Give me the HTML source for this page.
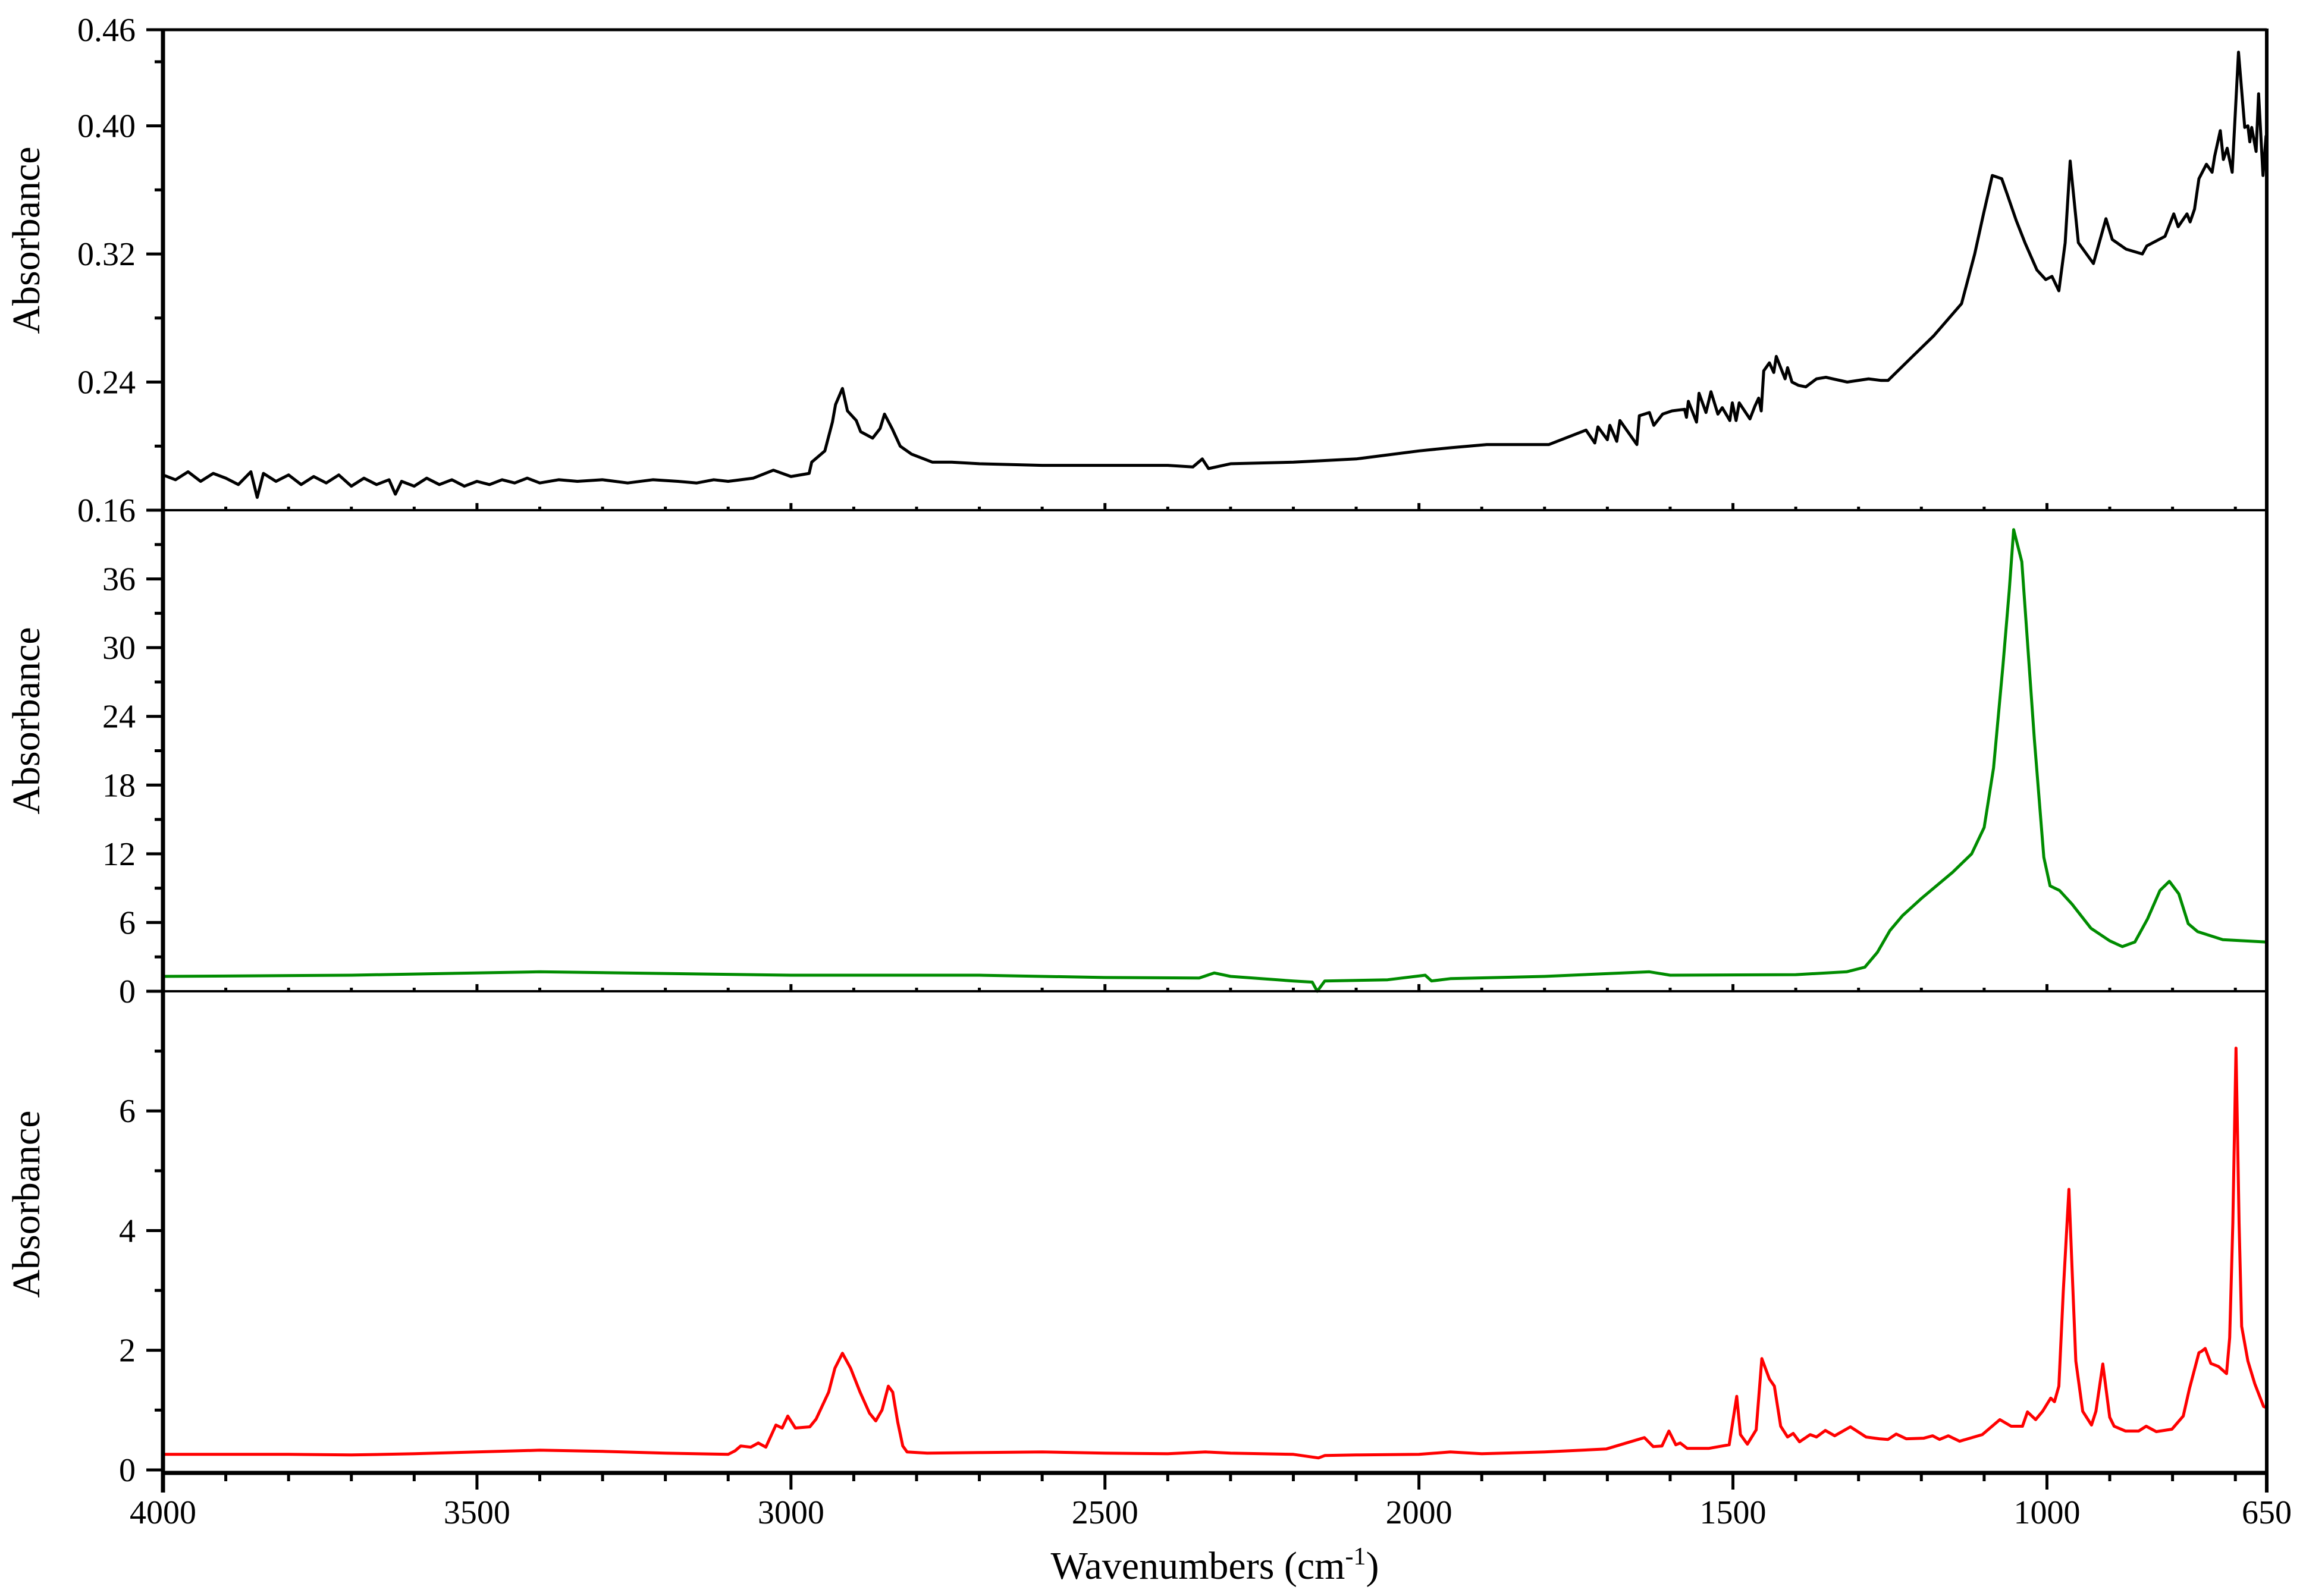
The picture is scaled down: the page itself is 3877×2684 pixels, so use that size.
<!DOCTYPE html>
<html><head><meta charset="utf-8"><style>
html,body{margin:0;padding:0;background:#fff;}
svg{display:block;}
text{font-family:"Liberation Serif",serif;fill:#000;}
</style></head><body>
<svg id="chart" xmlns="http://www.w3.org/2000/svg" width="3877" height="2684" viewBox="0 0 3877 2684">
<rect x="0" y="0" width="3877" height="2684" fill="#fff"/>
<g id="marks"></g>
<g id="axes"></g>
</svg>
<script>
// ---- data ----
const xTickLabels = [4000, 3500, 3000, 2500, 2000, 1500, 1000, 650];
const topTickLabels = ["0.16", "0.24", "0.32", "0.40", "0.46"];
const midTickLabels = ["0", "6", "12", "18", "24", "30", "36"];
const botTickLabels = ["0", "2", "4", "6"];

const topWn = [4000,3980,3960,3940,3920,3900,3880,3860,3850,3840,3820,3800,3780,3760,3740,3720,3700,3680,3660,3640,3630,3620,3600,3580,3560,3540,3520,3500,3480,3460,3440,3420,3400,3370,3340,3300,3260,3220,3180,3150,3123,3100,3060,3028,3000,2971,2967,2946,2934,2929,2918,2910,2896,2889,2870,2858,2851,2839,2826,2808,2775,2744,2700,2600,2500,2400,2360,2345,2335,2300,2200,2100,2000,1950,1892,1793,1734,1720,1715,1700,1696,1685,1680,1653,1649,1633,1626,1612,1597,1577,1574,1571,1558,1554,1543,1535,1524,1517,1505,1501,1495,1490,1473,1465,1459,1455,1451,1442,1435,1431,1417,1413,1406,1396,1384,1367,1352,1318,1284,1264,1253,1214,1180,1136,1115,1101,1087,1072,1063,1049,1035,1016,1002,992,981,971,963,950,926,906,896,874,848,841,812,798,791,777,772,765,758,746,737,733,724,719,713,705,695,685,680,677,674,667,663,656,651];
const topAbs = [0.182,0.179,0.184,0.178,0.183,0.180,0.176,0.184,0.168,0.183,0.178,0.182,0.176,0.181,0.177,0.182,0.175,0.180,0.176,0.179,0.170,0.178,0.175,0.180,0.176,0.179,0.175,0.178,0.176,0.179,0.177,0.180,0.177,0.179,0.178,0.179,0.177,0.179,0.178,0.177,0.179,0.178,0.180,0.185,0.181,0.183,0.190,0.197,0.215,0.226,0.236,0.222,0.216,0.209,0.205,0.211,0.220,0.211,0.200,0.195,0.190,0.190,0.189,0.188,0.188,0.188,0.187,0.192,0.186,0.189,0.190,0.192,0.197,0.199,0.201,0.201,0.210,0.202,0.212,0.204,0.213,0.203,0.216,0.201,0.219,0.221,0.213,0.220,0.222,0.223,0.218,0.228,0.215,0.233,0.221,0.234,0.220,0.224,0.216,0.227,0.216,0.227,0.217,0.225,0.230,0.222,0.247,0.252,0.246,0.256,0.242,0.249,0.240,0.238,0.237,0.242,0.243,0.240,0.242,0.241,0.241,0.256,0.269,0.289,0.320,0.345,0.369,0.367,0.357,0.341,0.327,0.310,0.304,0.306,0.297,0.327,0.378,0.327,0.314,0.342,0.329,0.323,0.320,0.325,0.331,0.345,0.337,0.345,0.340,0.348,0.367,0.376,0.371,0.381,0.397,0.379,0.386,0.371,0.446,0.399,0.400,0.390,0.399,0.384,0.420,0.369,0.394];

const midWn = [4000,3700,3400,3000,2700,2500,2350,2326,2300,2200,2170,2162,2150,2050,1990,1980,1950,1800,1633,1600,1400,1319,1290,1270,1250,1230,1200,1150,1120,1100,1085,1070,1060,1053,1040,1020,1005,995,980,960,930,900,880,860,840,820,805,790,775,760,720,650];
const midAbs = [1.3,1.4,1.7,1.4,1.4,1.2,1.15,1.6,1.3,0.9,0.8,0.0,0.9,1.0,1.4,0.9,1.1,1.3,1.7,1.4,1.45,1.7,2.1,3.4,5.3,6.6,8.1,10.4,12.0,14.3,19.5,28.5,35.0,40.3,37.5,22.0,11.7,9.2,8.8,7.6,5.5,4.4,3.9,4.3,6.3,8.8,9.6,8.5,5.9,5.2,4.5,4.3];

const botWn = [4000,3900,3800,3700,3600,3500,3400,3300,3200,3100,3089,3080,3064,3052,3040,3024,3014,3005,2993,2970,2960,2940,2930,2918,2905,2890,2875,2865,2855,2845,2838,2830,2822,2815,2783,2700,2600,2500,2400,2340,2300,2200,2160,2150,2100,2000,1950,1900,1800,1702,1673,1641,1627,1613,1602,1591,1584,1573,1538,1506,1494,1488,1477,1463,1454,1442,1434,1424,1413,1404,1394,1377,1367,1353,1338,1313,1288,1267,1253,1240,1224,1196,1182,1171,1157,1139,1103,1075,1057,1039,1031,1018,1007,994,988,981,974,965,960,954,943,929,922,911,900,893,875,854,842,826,801,783,773,758,754,748,739,727,714,709,704,699,694,690,680,669,655,650];
const botAbs = [0.26,0.26,0.26,0.25,0.27,0.30,0.33,0.31,0.28,0.26,0.32,0.40,0.38,0.45,0.38,0.75,0.70,0.90,0.70,0.72,0.85,1.30,1.70,1.95,1.70,1.30,0.95,0.82,1.00,1.40,1.30,0.80,0.40,0.30,0.28,0.29,0.30,0.28,0.27,0.30,0.28,0.26,0.20,0.24,0.25,0.26,0.30,0.27,0.30,0.35,0.44,0.54,0.39,0.40,0.65,0.42,0.45,0.36,0.36,0.42,1.23,0.59,0.43,0.67,1.86,1.52,1.40,0.73,0.55,0.61,0.47,0.59,0.55,0.66,0.57,0.72,0.55,0.52,0.51,0.60,0.52,0.53,0.57,0.51,0.57,0.48,0.59,0.84,0.73,0.73,0.97,0.84,0.98,1.20,1.14,1.40,2.98,4.69,3.36,1.82,0.98,0.75,0.98,1.77,0.88,0.73,0.65,0.65,0.73,0.64,0.68,0.90,1.36,1.96,1.98,2.03,1.78,1.73,1.61,2.21,4.13,7.05,4.13,2.40,1.82,1.44,1.06,1.04];

// ---- layout ----
const L = 274, R = 3811;
const panels = [
  {top: 50, bot: 858, min: 0.16, max: 0.46},
  {top: 858, bot: 1667, min: 0, max: 42},
  {top: 1667, bot: 2477, min: -0.05, max: 8}
];
const NS = "http://www.w3.org/2000/svg";
function xS(w){ return L + (4000 - w) * (R - L) / 3350; }
function yS(p, v){ const P = panels[p]; return P.bot - (v - P.min) * (P.bot - P.top) / (P.max - P.min); }
function mk(tag, attrs){ const e = document.createElementNS(NS, tag); for (const k in attrs) e.setAttribute(k, attrs[k]); return e; }
const marks = document.getElementById('marks');
const axes = document.getElementById('axes');

function series(p, wn, ab, color, name){
  let d = "";
  for (let i = 0; i < wn.length; i++) d += (i ? "L" : "M") + xS(wn[i]).toFixed(1) + "," + yS(p, ab[i]).toFixed(1);
  const path = mk('path', {d: d, fill: 'none', stroke: color, 'stroke-width': 5, 'stroke-linejoin': 'round'});
  
  
  marks.appendChild(path);
}
series(0, topWn, topAbs, '#000', 'spectrum-top-line');
series(1, midWn, midAbs, '#008c00', 'spectrum-middle-line');
series(2, botWn, botAbs, '#ff0000', 'spectrum-bottom-line');

function line(x1,y1,x2,y2,w,name){
  const l = mk('line', {x1:x1,y1:y1,x2:x2,y2:y2,stroke:'#000','stroke-width':w});
  
  
  axes.appendChild(l);
}
function txt(x,y,s,anchor,size,name,rot){
  const t = mk('text', {x:x,y:y,'font-size':size,'text-anchor':anchor});
  if (rot) t.setAttribute('transform', rot);
  t.textContent = s;
  
  
  axes.appendChild(t);
}
// frame
line(L, 50, R, 50, 5, 'plot-top-border');
line(L, 48, L, 2510, 7, 'y-axis-line');
line(R, 48, R, 2510, 6, 'right-border');
line(L, 858, R, 858, 4, 'panel-separator-1');
line(L, 1667, R, 1667, 4, 'panel-separator-2');
line(L, 2477, R + 3, 2477, 7, 'x-axis-line');

// x ticks
for (let w = 3900; w > 650; w -= 100) {
  const major = (w % 500 === 0);
  line(xS(w), 2477, xS(w), 2477 + (major ? 28 : 14), 5, 'x-tick');
  line(xS(w), 858, xS(w), 858 - (major ? 12 : 6), 5, 'x-tick-inner');
  line(xS(w), 1667, xS(w), 1667 - (major ? 12 : 6), 5, 'x-tick-inner');
}
for (const v of xTickLabels) txt(xS(v), 2562, String(v), 'middle', 56, 'x-tick-label');
txt((L + R) / 2, 2655, 'Wavenumbers (cm', 'middle', 66, 'x-axis-title');
(function(){
  const t = axes.lastChild;
  t.textContent = '';
  const a = mk('tspan', {}); a.textContent = 'Wavenumbers (cm'; t.appendChild(a);
  const b = mk('tspan', {dy: -24, 'font-size': 42}); b.textContent = '-1'; t.appendChild(b);
  const c = mk('tspan', {dy: 24}); c.textContent = ')'; t.appendChild(c);
})();

// y ticks
function yTicks(p, step, labels){
  const P = panels[p];
  for (let k = 0; ; k++) {
    const v = P.min < 0 ? k * step : P.min + k * step;
    if (v > P.max + 1e-9) break;
    const isMajor = k % 2 === 0;
    line(L - (isMajor ? 28 : 14), yS(p, v), L, yS(p, v), 5, 'y-tick');
  }
  labels.forEach(s => txt(228, yS(p, parseFloat(s)) + 19, s, 'end', 56, 'y-tick-label'));
}
yTicks(0, 0.04, topTickLabels.slice(0, 4));
line(L - 28, 50, L, 50, 5, 'y-tick');
txt(228, 69, '0.46', 'end', 56, 'y-tick-label');
yTicks(1, 3, midTickLabels);
yTicks(2, 1, botTickLabels);

txt(0, 0, 'Absorbance', 'middle', 66, 'y-axis-title-top', 'translate(66,404) rotate(-90)');
txt(0, 0, 'Absorbance', 'middle', 66, 'y-axis-title-middle', 'translate(66,1212) rotate(-90)');
txt(0, 0, 'Absorbance', 'middle', 66, 'y-axis-title-bottom', 'translate(66,2025) rotate(-90)');
</script>
</body></html>
